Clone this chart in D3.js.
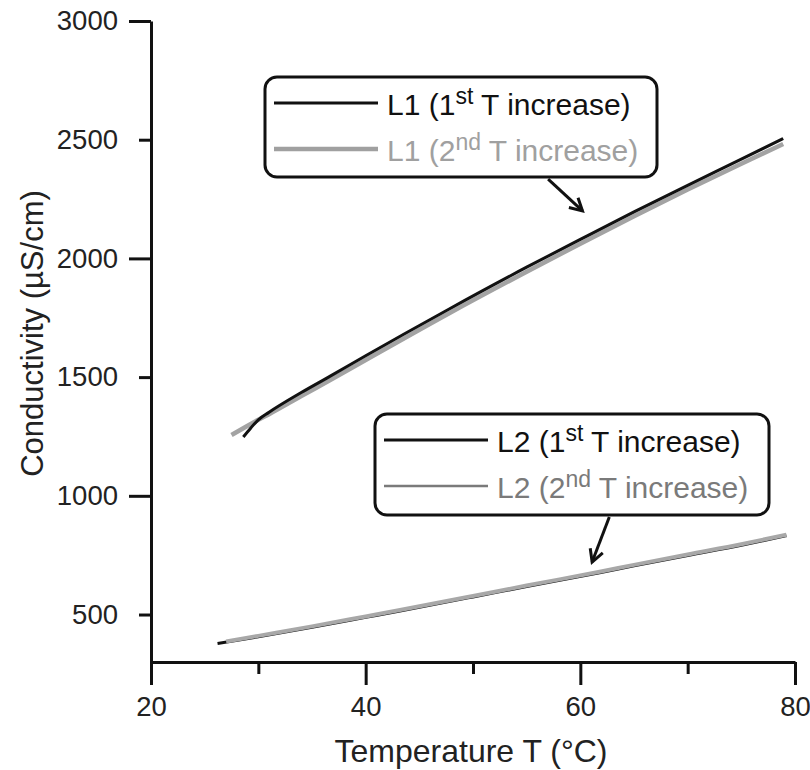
<!DOCTYPE html>
<html>
<head>
<meta charset="utf-8">
<script src="https://cdn.jsdelivr.net/npm/d3@7"></script>
<style>
  body { margin: 0; background: #fff; }
  svg { display: block; font-family: "Liberation Sans", Arial, sans-serif; }
</style>
</head>
<body>
<svg id="chart" width="810" height="770"></svg>
<script>
// data: temperature (°C) vs conductivity (µS/cm)
const L1_first_T = [28.6, 29.3, 30, 31, 34, 36.7, 40, 47.7, 55, 60, 65, 70, 75, 78.9];
const L1_first_C = [1248, 1286, 1320, 1352, 1435, 1504, 1590, 1785, 1963, 2080, 2196, 2308, 2418, 2505];
const L1_second_T = [27.5, 30, 31, 34, 36.7, 40, 47.7, 55, 60, 65, 70, 75, 78.9];
const L1_second_C = [1256, 1320, 1344, 1420, 1488, 1572, 1767, 1944, 2062, 2178, 2290, 2399, 2482];
const L2_first_T = [26.2, 30, 35, 40, 43.2, 50, 55, 61.8, 65, 70, 75, 79.2];
const L2_first_C = [378, 406, 446, 488, 515, 574, 618, 676, 705, 749, 792, 832];
const L2_second_T = [27, 30, 35, 40, 43.2, 50, 55, 61.8, 65, 70, 75, 79.2];
const L2_second_C = [386, 410, 450, 492, 519, 578, 622, 680, 709, 753, 796, 836];

const xTicksMajor = [20, 40, 60, 80];
const xTicksMinor = [30, 50, 70];
const yTicks = [500, 1000, 1500, 2000, 2500, 3000];
const yTicksMajor = [1000, 2000, 3000];

// annotation arrows in data units: [tailT, tailC, tipT, tipC]
const arrows = [[57.0, 2334, 60.2, 2200], [62.7, 911, 61.1, 721]];

const svg = d3.select("#chart");
const x = d3.scaleLinear().domain([20, 80]).range([151, 795]);
const y = d3.scaleLinear().domain([300, 3000]).range([662, 21]);

// axes
svg.append("g").attr("transform", "translate(0,662)")
  .call(d3.axisBottom(x).tickValues(xTicksMajor).tickSize(23).tickSizeOuter(0).tickPadding(11).tickFormat(d3.format("d")));
svg.append("g").attr("transform", "translate(0,662)")
  .call(d3.axisBottom(x).tickValues(xTicksMinor).tickSize(12).tickSizeOuter(0).tickFormat(""))
  .select(".domain").remove();
const gy = svg.append("g").attr("transform", "translate(151,0)")
  .call(d3.axisLeft(y).tickValues(yTicks).tickSize(12).tickSizeOuter(0).tickFormat(d3.format("d")));
gy.selectAll(".tick line").attr("x2", d => yTicksMajor.includes(d) ? -22 : -12);
gy.selectAll(".tick text").attr("x", -33);

svg.selectAll(".domain").attr("stroke", "#111").attr("stroke-width", 3);
svg.selectAll(".tick line").attr("stroke", "#111").attr("stroke-width", 3);
svg.selectAll(".tick text").attr("fill", "#222").style("font-size", "27.5px").style("font-family", "Liberation Sans, Arial, sans-serif");

// axis titles
svg.append("text").attr("x", (x(20) + x(80)) / 2 - 2).attr("y", 762)
  .attr("text-anchor", "middle").attr("fill", "#222").style("font-size", "32px")
  .text("Temperature T (°C)");
svg.append("text").attr("transform", `translate(43,${(y(3000) + y(300)) / 2 - 8}) rotate(-90)`)
  .attr("text-anchor", "middle").attr("fill", "#222").style("font-size", "31px")
  .text("Conductivity (µS/cm)");

// lines
const line = d3.line().x(d => x(d[0])).y(d => y(d[1])).curve(d3.curveMonotoneX);
const zip = (a, b) => a.map((v, i) => [v, b[i]]);
const series = [
  { pts: zip(L2_first_T, L2_first_C), color: "#111", width: 3 },
  { pts: zip(L2_second_T, L2_second_C), color: "#a8a8a8", width: 4 },
  { pts: zip(L1_second_T, L1_second_C), color: "#a3a3a3", width: 4.5 },
  { pts: zip(L1_first_T, L1_first_C), color: "#111", width: 3 }
];
svg.selectAll("path.series").data(series).join("path").attr("class", "series")
  .attr("d", d => line(d.pts)).attr("fill", "none")
  .attr("stroke", d => d.color).attr("stroke-width", d => d.width)
  .attr("stroke-linejoin", "round");

// legends
function legend(x0, y0, w, h, label, colors, widths) {
  const g = svg.append("g").attr("transform", `translate(${x0},${y0})`);
  g.append("rect").attr("width", w).attr("height", h).attr("rx", 12)
    .attr("fill", "#fff").attr("stroke", "#111").attr("stroke-width", 3);
  ["st", "nd"].forEach((sup, i) => {
    const by = 38 + i * 46;
    g.append("line").attr("x1", 9).attr("x2", 113).attr("y1", by - 12).attr("y2", by - 12)
      .attr("stroke", colors[i]).attr("stroke-width", widths[i]);
    const t = g.append("text").attr("x", 122).attr("y", by).attr("fill", colors[i])
      .style("font-size", "30px");
    t.append("tspan").text(`${label} (${i + 1}`);
    t.append("tspan").attr("dy", -11).style("font-size", "23px").text(sup);
    t.append("tspan").attr("dy", 11).text(" T increase)");
  });
}
legend(265, 77, 392, 100, "L1", ["#111", "#a0a0a0"], [3, 4.5]);
legend(375, 414, 394, 101, "L2", ["#111", "#7a7a7a"], [3, 2.5]);

// arrows
arrows.forEach(a => {
  const x1 = x(a[0]), y1 = y(a[1]), x2 = x(a[2]), y2 = y(a[3]);
  const ang = Math.atan2(y2 - y1, x2 - x1), len = 14, spread = 0.5;
  svg.append("line").attr("x1", x1).attr("y1", y1).attr("x2", x2).attr("y2", y2)
    .attr("stroke", "#111").attr("stroke-width", 3);
  svg.append("path")
    .attr("d", `M${x2 - len * Math.cos(ang - spread)},${y2 - len * Math.sin(ang - spread)}L${x2},${y2}L${x2 - len * Math.cos(ang + spread)},${y2 - len * Math.sin(ang + spread)}`)
    .attr("fill", "none").attr("stroke", "#111").attr("stroke-width", 3).attr("stroke-linejoin", "miter");
});
</script>
</body>
</html>
